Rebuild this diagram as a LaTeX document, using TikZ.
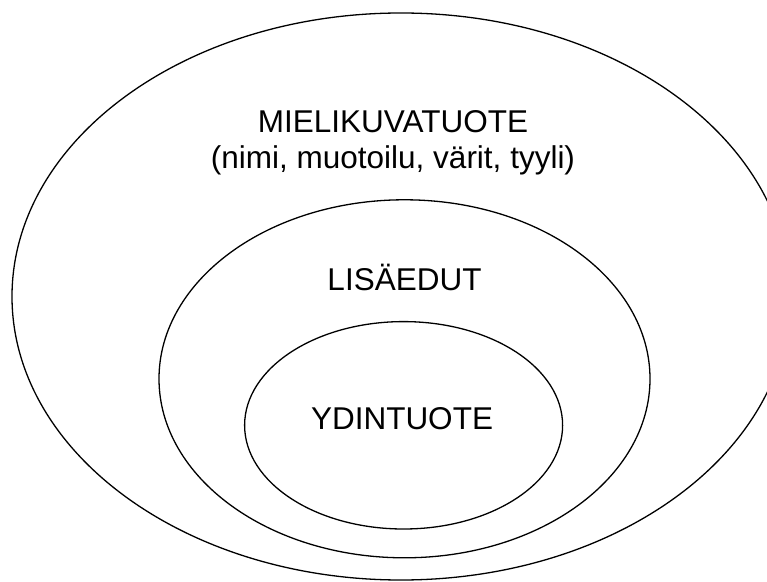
\documentclass[tikz,border=0pt]{standalone}
\usepackage{fontspec}
\setmainfont{Liberation Sans}
\usetikzlibrary{shapes.geometric}
\begin{document}
\begin{tikzpicture}[x=1pt,y=1pt,
  ring/.style={draw=black, line width=1.3pt, ellipse, inner sep=0pt},
  label/.style={anchor=base, inner sep=0pt, font=\fontsize{31.5}{36}\selectfont}]
  \useasboundingbox (0,0) rectangle (767,581);
  \clip (0,0) rectangle (767,581);
  % three nested product layers
  \node[ring, minimum width=778pt, minimum height=567pt] (outer) at (401,284.5) {};
  \node[ring, minimum width=491pt, minimum height=358pt] (middle) at (404.5,202.2) {};
  \node[ring, minimum width=318pt, minimum height=207.4pt] (inner) at (403.6,155.7) {};
  % layer captions
  \node[label] (image) at (393,448) {MIELIKUVATUOTE};
  \node[label] (imagedesc) at (393,412.5) {(nimi, muotoilu, värit, tyyli)};
  \node[label] (extra) at (404.5,290.2) {LISÄEDUT};
  \node[label] (core) at (402,151.2) {YDINTUOTE};
\end{tikzpicture}
\end{document}
